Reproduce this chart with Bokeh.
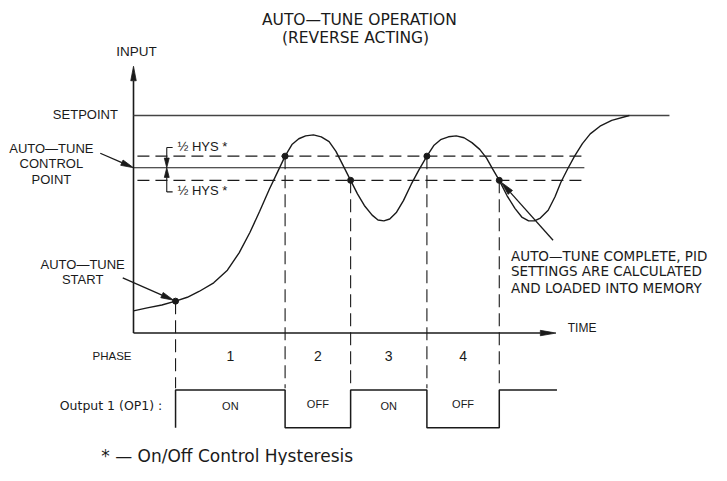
import numpy as np
from bokeh.plotting import figure
from bokeh.models import Range1d
from bokeh.core.properties import value
from bokeh.embed import file_html
from bokeh.resources import INLINE

# ---------------- data (diagram units: x = time, y = drawing level, downward) ----
setpoint_level = 119
hys_upper_level = 161
control_level = 173
hys_lower_level = 186
time_axis_level = 344
input_axis_time = 136
input_axis_top = 68
time_axis_end = 568
setpoint_end = 684
band_start = 140
band_end = 597

curve_time = [136, 150, 165, 179, 191, 203, 218, 232, 244, 255, 265, 275, 283, 291, 298,
              305, 312, 320, 328, 336, 343, 350, 358, 365, 372, 380, 386, 392, 398, 405,
              412, 420, 428, 436, 443, 450, 458, 466, 474, 482, 490, 497, 503, 510, 518,
              526, 533, 540, 546, 552, 560, 567, 573, 580, 587, 595, 603, 613, 625, 643]
curve_input = [321, 318, 315, 311, 307, 301, 292, 279, 261, 240, 218, 195, 178, 161, 149,
               143, 140, 139, 141, 146, 156, 170, 186, 200, 212, 222, 227, 228, 226, 219,
               207, 190, 175, 161, 150, 144, 141, 140, 142, 147, 154, 163, 174, 186, 202,
               215, 224, 228, 228, 225, 217, 203, 188, 174, 161, 148, 138, 130, 124, 119]

switch_time = [179, 291, 358, 436, 510]
switch_input = [311, 161, 186, 161, 186]
output_end_time = 569
phase_labels = ["1", "2", "3", "4"]
output_states = ["ON", "OFF", "ON", "OFF", "ON"]
on_level = 403
off_level = 442

INK = "#1a1a1a"

p = figure(width=711, height=465, x_range=Range1d(0, 727), y_range=Range1d(481, 0),
           output_backend="svg", toolbar_location=None, min_border=0,
           x_axis_location=None, y_axis_location=None)
p.grid.visible = False
p.outline_line_color = None
p.background_fill_color = "white"


def arrow(x0, y0, x1, y1, L=13, w=3.0, width=1.3):
    dx, dy = x1 - x0, y1 - y0
    n = np.hypot(dx, dy)
    ux, uy = dx / n, dy / n
    bx, by = x1 - L * ux, y1 - L * uy
    px, py = -uy, ux
    p.segment(x0=[x0], y0=[y0], x1=[bx], y1=[by], line_color=INK, line_width=width)
    p.patch(x=[x1, bx + w * px, bx - w * px], y=[y1, by + w * py, by - w * py],
            fill_color=INK, line_color=INK, line_width=0.8)


def txt(xs, ys, texts, font="Liberation Sans", size="13px", align="center"):
    p.text(x=xs, y=ys, text=texts, text_font=value(font), text_font_size=size,
           text_align=align, text_baseline="middle", text_color=INK)


# axes
arrow(input_axis_time, time_axis_level, input_axis_time, input_axis_top, L=15, w=2.8, width=1.6)
arrow(input_axis_time, time_axis_level, time_axis_end, time_axis_level, L=16, w=2.8, width=1.6)

# setpoint and control band
p.line(x=[input_axis_time, setpoint_end], y=[setpoint_level, setpoint_level],
       line_color="#444444", line_width=1.6)
p.line(x=[input_axis_time, band_end], y=[control_level, control_level],
       line_color=INK, line_width=1.2)
for lvl in (hys_upper_level, hys_lower_level):
    p.line(x=[band_start, band_end], y=[lvl, lvl], line_color=INK, line_width=1.2,
           line_dash="12 6")

# hysteresis dimension marks
hx = 170
arrow(hx, 152, hx, control_level, L=10, w=2.5, width=1.1)
arrow(hx, 198, hx, control_level, L=10, w=2.5, width=1.1)
p.segment(x0=[hx, hx], y0=[152, 198], x1=[176, 176], y1=[152, 198], line_color=INK, line_width=1.1)
txt([181, 181], [151, 197], ["½ HYS *", "½ HYS *"], size="13px", align="left")

# process curve
p.line(x=curve_time, y=curve_input, line_color=INK, line_width=1.4)

# switching point markers and vertical dashed lines
p.segment(x0=switch_time, y0=switch_input, x1=switch_time, y1=[on_level - 2] * len(switch_time),
          line_color=INK, line_width=1.1, line_dash="13 6")
p.scatter(x=switch_time, y=switch_input, size=6, fill_color=INK, line_color=INK)

# output waveform
bounds = switch_time + [output_end_time]
wx, wy = [switch_time[0]], [off_level]
for i, s in enumerate(output_states):
    lvl = on_level if s == "ON" else off_level
    wx += [bounds[i], bounds[i + 1]]
    wy += [lvl, lvl]
p.line(x=wx, y=wy, line_color=INK, line_width=1.5)

mids = [(bounds[i] + bounds[i + 1]) / 2 for i in range(len(phase_labels))]
txt(mids, [368] * len(mids), phase_labels, size="14px")
state_y = [419 if s == "ON" else 417 for s in output_states[:len(phase_labels)]]
txt(mids, state_y, output_states[:len(phase_labels)], size="11px")
txt([114], [368], ["PHASE"], size="11.5px")
txt([113], [419], ["Output 1 (OP1) :"], font="DejaVu Sans", size="12.5px")

# labels
txt([139], [53], ["INPUT"], size="13.5px")
txt([120], [118], ["SETPOINT"], size="13px", align="right")
txt([580], [339], ["TIME"], size="12px", align="left")
txt([52, 52, 52], [153, 169, 185], ["AUTO—TUNE", "CONTROL", "POINT"], size="13px")
arrow(102, 158, 136, 173, L=13, w=3, width=1.3)
txt([84, 84], [273, 289], ["AUTO—TUNE", "START"], size="13px")
arrow(125, 287, 177, 310, L=13, w=3, width=1.3)
txt([522, 522, 522], [264, 280, 297],
    ["AUTO—TUNE COMPLETE, PID", "SETTINGS ARE CALCULATED", "AND LOADED INTO MEMORY"],
    font="DejaVu Sans", size="13.5px", align="left")
arrow(565, 248, 512, 188, L=14, w=3, width=1.3)

# title
txt([367, 363], [20, 39], ["AUTO—TUNE OPERATION", "(REVERSE ACTING)"],
    font="DejaVu Sans", size="15.5px")

# footnote
txt([103], [471], ["* — On/Off Control Hysteresis"], font="DejaVu Sans", size="17px", align="left")

open("out.html", "w").write(file_html(p, INLINE))
